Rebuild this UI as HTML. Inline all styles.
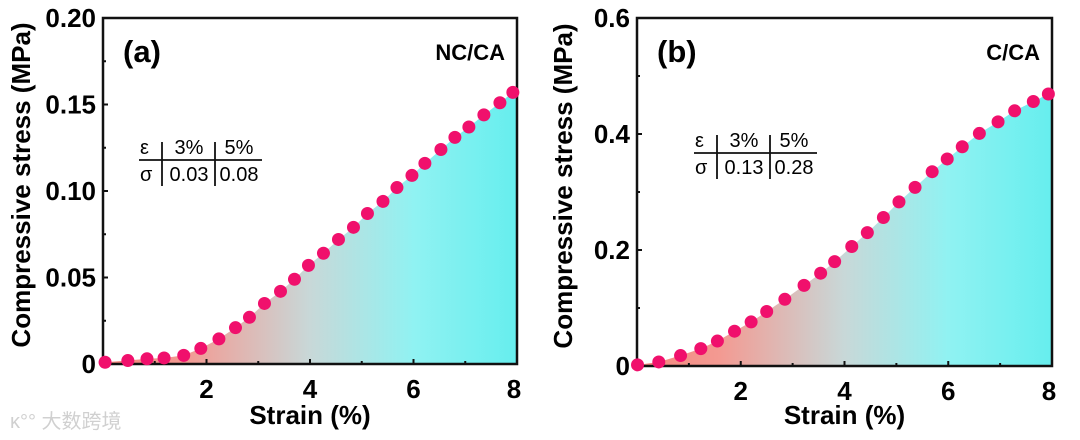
<!DOCTYPE html>
<html><head><meta charset="utf-8"><style>
html,body{margin:0;padding:0;background:#fff;width:1080px;height:440px;overflow:hidden}
svg{display:block}
text{font-family:"Liberation Sans",Arial,sans-serif}
</style></head><body>
<svg id="chart" width="1080" height="440" viewBox="0 0 1080 440" xmlns="http://www.w3.org/2000/svg">
<defs>
<linearGradient id="gradA" x1="0" x2="1" y1="0" y2="0">
<stop offset="0" stop-color="#f4867c"/><stop offset="0.2" stop-color="#f39a92"/><stop offset="0.5" stop-color="#c8d8d8"/><stop offset="0.75" stop-color="#90f2f2"/><stop offset="1" stop-color="#66eeee"/>
</linearGradient>
</defs>
<text x="10" y="428" font-size="20" fill="#d0d0d0" style="font-family:'Liberation Sans','Noto Sans CJK SC',sans-serif">ĸ°° 大数跨境</text>
</svg>
<script>
const aStrain=[0.04,0.48,0.85,1.18,1.56,1.89,2.24,2.56,2.83,3.12,3.43,3.70,3.97,4.26,4.55,4.84,5.11,5.41,5.68,5.97,6.22,6.53,6.80,7.07,7.36,7.67,7.92];
const aStress=[0.001,0.002,0.003,0.0035,0.005,0.009,0.0145,0.021,0.027,0.035,0.042,0.049,0.057,0.064,0.072,0.079,0.087,0.094,0.102,0.109,0.116,0.124,0.131,0.137,0.144,0.151,0.157];
const bStrain=[0.01,0.42,0.84,1.23,1.55,1.88,2.20,2.50,2.85,3.22,3.54,3.81,4.14,4.44,4.75,5.05,5.36,5.69,5.98,6.27,6.60,6.96,7.28,7.64,7.93];
const bStress=[0.002,0.007,0.018,0.030,0.043,0.060,0.076,0.094,0.115,0.139,0.160,0.180,0.206,0.230,0.256,0.283,0.308,0.335,0.357,0.378,0.401,0.421,0.440,0.456,0.469];
const xTicks=[2,4,6,8];
const aYTicks=["0","0.05","0.10","0.15","0.20"];
const aYVals=[0,0.05,0.10,0.15,0.20];
const bYTicks=["0","0.2","0.4","0.6"];
const bYVals=[0,0.2,0.4,0.6];
const aTable=["3%","5%","0.03","0.08"];
const bTable=["0.13","0.28"];
const NS="http://www.w3.org/2000/svg";
const svg=document.getElementById('chart');
function mk(tag,attrs,parent){const e=document.createElementNS(NS,tag);for(const k in attrs)e.setAttribute(k,attrs[k]);(parent||svg).appendChild(e);return e;}
function panel(o){
  const g=mk('g',{});
  
  
  const sx=v=>o.x0+(v/8)*(o.x1-o.x0);
  const sy=v=>o.y1-(v/o.ymax)*(o.y1-o.y0);
  let d='M'+sx(0)+','+sy(0);
  for(let i=0;i<o.xs.length;i++)d+=' L'+sx(o.xs[i])+','+sy(o.ys[i]);
  d+=' L'+sx(8)+','+sy(o.ys[o.ys.length-1])+' L'+sx(8)+','+sy(0)+' Z';
  const area=mk('path',{d:d,fill:'url(#gradA)'},g);
  
  
  const fr=mk('rect',{x:o.x0,y:o.y0,width:o.x1-o.x0,height:o.y1-o.y0,fill:'none',stroke:'#111','stroke-width':2.5},g);
  
  
  for(let v=1;v<8;v++){mk('line',{x1:sx(v),x2:sx(v),y1:o.y1,y2:o.y1-(v%2?3:5),stroke:'#111','stroke-width':2},g);}
  xTicks.forEach(v=>{const t=mk('text',{x:sx(v)+(v==8?-3:0),y:o.y1+34,'text-anchor':'middle','font-size':26,'font-weight':'bold'},g);t.textContent=v;
    
    });
  o.yv.forEach((v,i)=>{mk('line',{x1:o.x0,x2:o.x0+5,y1:sy(v),y2:sy(v),stroke:'#111','stroke-width':2},g);
    if(i<o.yv.length-1){const m=(v+o.yv[i+1])/2;mk('line',{x1:o.x0,x2:o.x0+3,y1:sy(m),y2:sy(m),stroke:'#111','stroke-width':2},g);}
    const t=mk('text',{x:o.x0-7,y:sy(v)+9,'text-anchor':'end','font-size':26,'font-weight':'bold'},g);t.textContent=o.yl[i];
    
    });
  const xt=mk('text',{x:(o.x0+o.x1)/2,y:424,'text-anchor':'middle','font-size':26,'font-weight':'bold'},g);xt.textContent='Strain (%)';
  
  
  const yt=mk('text',{x:0,y:0,'text-anchor':'middle','font-size':26,'font-weight':'bold',transform:`translate(${o.ytx},${(o.y0+o.y1)/2-6}) rotate(-90)`},g);yt.textContent='Compressive stress (MPa)';
  
  
  const pl=mk('text',{x:o.x0+20,y:62,'font-size':31,'font-weight':'bold'},g);pl.textContent=o.label;
  
  
  const sm=mk('text',{x:o.x1-12,y:60,'text-anchor':'end','font-size':22,'font-weight':'bold'},g);sm.textContent=o.sample;
  
  
  const T=o.tbl;
  const tb=mk('g',{},g);
  
  
  mk('line',{x1:T.x,x2:T.x+123,y1:T.y,y2:T.y,stroke:'#111','stroke-width':1.8},tb);
  mk('line',{x1:T.x+23,x2:T.x+23,y1:T.y-18,y2:T.y+26,stroke:'#111','stroke-width':1.8},tb);
  mk('line',{x1:T.x+76,x2:T.x+76,y1:T.y-18,y2:T.y+26,stroke:'#111','stroke-width':1.8},tb);
  const cells=[['ε',T.x+1,T.y-6,'start'],['3%',T.x+50,T.y-6,'middle'],['5%',T.x+100,T.y-6,'middle'],['σ',T.x+1,T.y+21,'start'],[o.tv[0],T.x+50,T.y+21,'middle'],[o.tv[1],T.x+100,T.y+21,'middle']];
  cells.forEach(c=>{const t=mk('text',{x:c[1],y:c[2],'text-anchor':c[3],'font-size':20},tb);t.textContent=c[0];});
  for(let i=0;i<o.xs.length;i++){const c=mk('circle',{cx:sx(o.xs[i]),cy:sy(o.ys[i]),r:6.5,fill:'#f0106c'},g);
    
    }
}
panel({name:'panel-a',x0:103,x1:517,y0:18,y1:364,ymax:0.2,xs:aStrain,ys:aStress,yv:aYVals,yl:aYTicks,ytx:30,label:'(a)',sample:'NC/CA',tbl:{x:139,y:160},tv:[aTable[2],aTable[3]]});
panel({name:'panel-b',x0:637,x1:1052,y0:18,y1:366,ymax:0.6,xs:bStrain,ys:bStress,yv:bYVals,yl:bYTicks,ytx:572,label:'(b)',sample:'C/CA',tbl:{x:694,y:153},tv:bTable});
</script>
</body></html>
